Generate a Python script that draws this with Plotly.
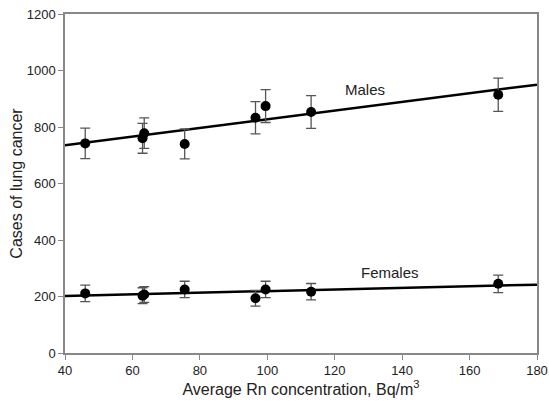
import plotly.graph_objects as go

# Data
males_x = [46, 63, 63.5, 75.5, 96.5, 99.5, 113, 168.5]
males_y = [742, 760, 778, 740, 833, 874, 853, 914]
males_err = [54, 53, 54, 53, 57, 58, 58, 59]

females_x = [46, 63, 63.5, 75.5, 96.5, 99.5, 113, 168.5]
females_y = [211, 203, 207, 225, 194, 225, 217, 245]
females_err = [29, 28, 28, 29, 28, 29, 29, 31]

fit_x = [40, 180]
males_fit = [735, 950]
females_fit = [202, 242]

x_ticks = [40, 60, 80, 100, 120, 140, 160, 180]
y_ticks = [0, 200, 400, 600, 800, 1000, 1200]

FONT = "Liberation Sans, Arial, sans-serif"

fig = go.Figure()

for fy in (males_fit, females_fit):
    fig.add_trace(go.Scatter(x=fit_x, y=fy, mode="lines",
                             line=dict(color="black", width=2.5),
                             showlegend=False, hoverinfo="skip"))

for xs, ys, es in ((males_x, males_y, males_err), (females_x, females_y, females_err)):
    fig.add_trace(go.Scatter(
        x=xs, y=ys, mode="markers",
        marker=dict(color="black", size=10),
        error_y=dict(type="data", array=es, visible=True,
                     color="#555555", thickness=1.3, width=5),
        showlegend=False))

fig.add_annotation(x=129, y=931, text="Males", showarrow=False,
                   font=dict(family=FONT, size=15, color="#222"))
fig.add_annotation(x=136.5, y=284, text="Females", showarrow=False,
                   font=dict(family=FONT, size=15, color="#222"))

axis_common = dict(showline=True, linecolor="#888888", linewidth=1.5, mirror=True,
                   ticks="outside", ticklen=5, tickcolor="#888888", tickwidth=1.2,
                   showgrid=False, zeroline=False, automargin=False,
                   tickfont=dict(family=FONT, size=13, color="#222"))

fig.update_xaxes(range=[40, 180], tickvals=x_ticks,
                 title=dict(text="Average Rn concentration, Bq/m<sup>3</sup>",
                            font=dict(family=FONT, size=16, color="#222"), standoff=4),
                 **axis_common)
fig.update_yaxes(range=[0, 1200], tickvals=y_ticks,
                 title=dict(text="Cases of lung cancer",
                            font=dict(family=FONT, size=16, color="#222"), standoff=0),
                 **axis_common)

fig.update_layout(width=549, height=407,
                  margin=dict(l=65, r=12, t=14, b=54),
                  plot_bgcolor="white", paper_bgcolor="white")

fig.write_html("out.html", post_script="document.body.style.margin='0';",
               config={"displayModeBar": False})
